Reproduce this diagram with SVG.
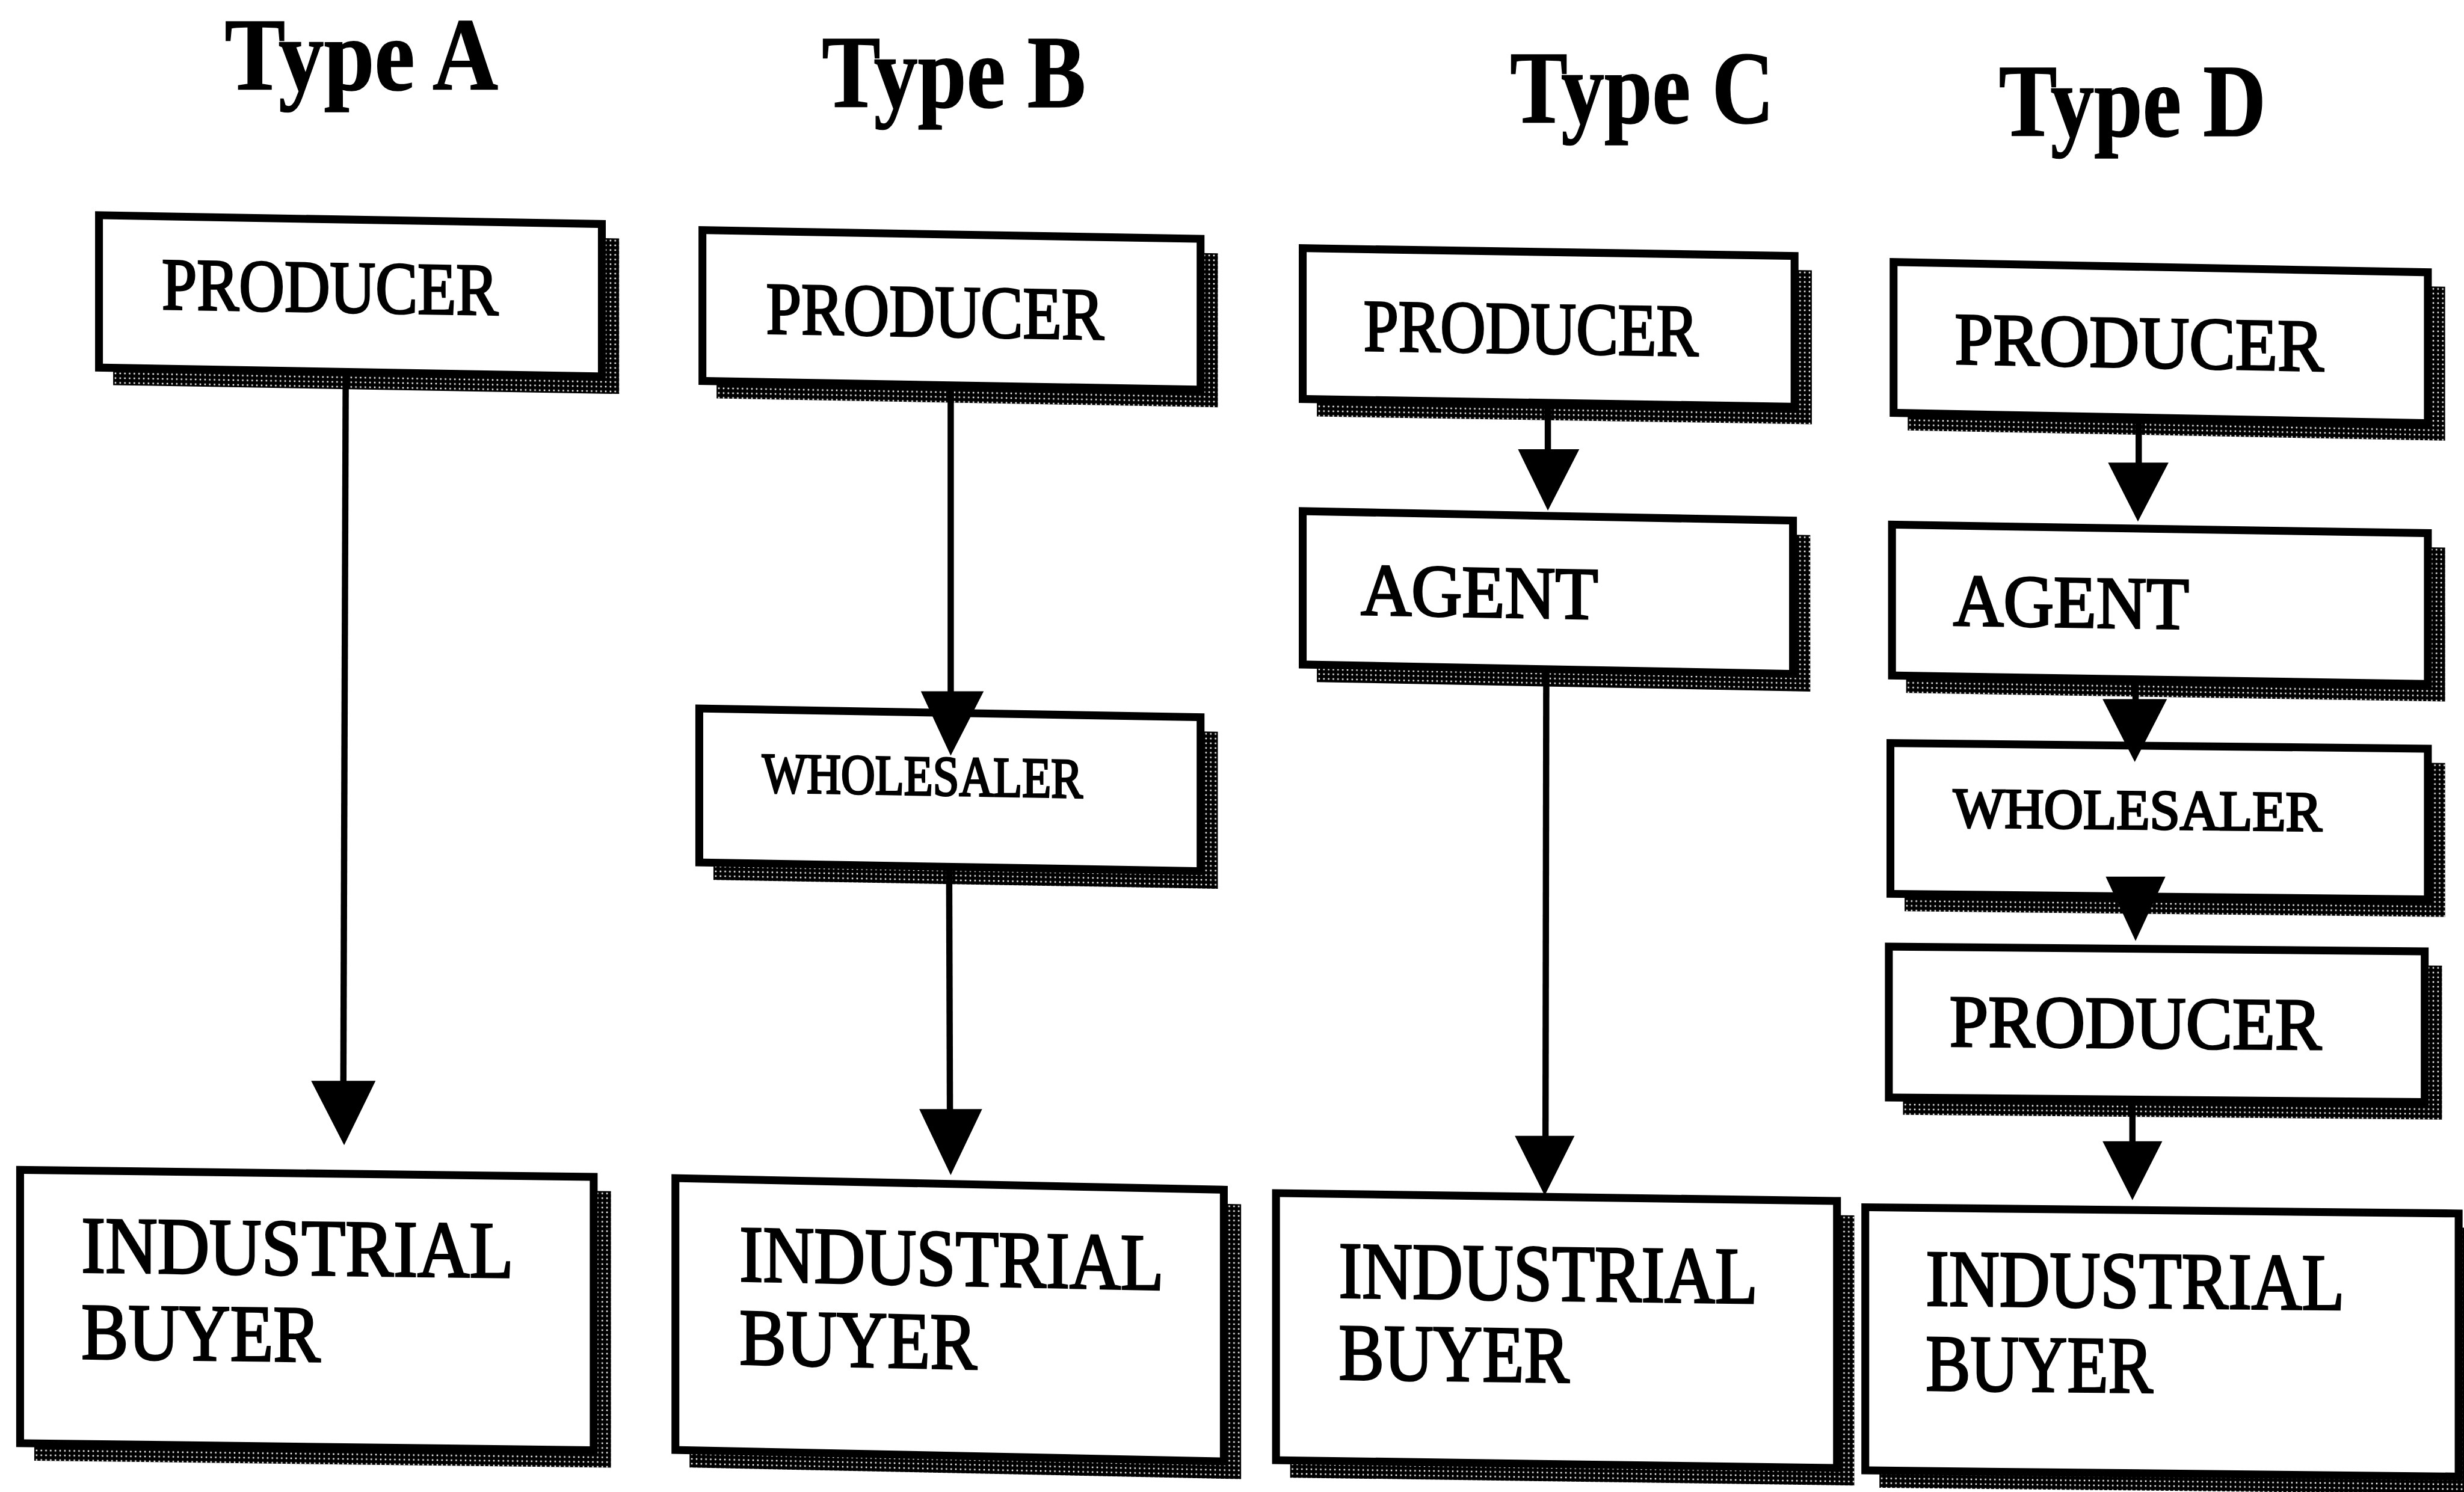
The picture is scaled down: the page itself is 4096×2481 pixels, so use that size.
<svg xmlns="http://www.w3.org/2000/svg" width="4096" height="2481" viewBox="0 0 4096 2481">
<defs>
<pattern id="stip" width="3" height="3" patternUnits="userSpaceOnUse">
<rect width="3" height="3" fill="#000"/>
<circle cx="1.5" cy="1.5" r="0.55" fill="#fff"/>
</pattern>
<style>
.box{fill:#fff;stroke:#000;stroke-width:5;stroke-linejoin:miter}
.sh{fill:url(#stip)}
.title{font-family:"Liberation Serif","Times New Roman",serif;font-weight:bold;font-size:66px;fill:#000;stroke:#000;stroke-width:0.6}
.lbl{font-family:"Liberation Serif","Times New Roman",serif;font-size:47px;fill:#000;stroke:#000;stroke-width:1.3}
.sm{font-size:36px}
.big{font-size:51px}
.ln{stroke:#000;stroke-width:4;fill:none}
.hd{fill:#000}
</style>
</defs>
<rect width="4096" height="2481" fill="#fff"/>
<g transform="scale(2.612245)">
<g id="titles">
<text class="title" x="143" y="57" textLength="174" lengthAdjust="spacingAndGlyphs">Type A</text>
<text class="title" x="523" y="68" textLength="168" lengthAdjust="spacingAndGlyphs">Type B</text>
<text class="title" x="961" y="78" textLength="168" lengthAdjust="spacingAndGlyphs">Type C</text>
<text class="title" x="1272" y="86.5" textLength="170" lengthAdjust="spacingAndGlyphs">Type D</text>
</g>
<g id="a-producer" transform="translate(63,137) skewY(1)">
<rect class="sh" x="9" y="9" width="322" height="99"/>
<rect class="box" x="0" y="0" width="320" height="97"/>
<text class="lbl" x="40" y="59" textLength="214" lengthAdjust="spacingAndGlyphs">PRODUCER</text>
</g>
<g id="a-buyer" transform="translate(12.8,744.7) skewY(0.7)">
<rect class="sh" x="9" y="9" width="367" height="176"/>
<rect class="box" x="0" y="0" width="365" height="174"/>
<text class="lbl big" x="39" y="64.6" textLength="275" lengthAdjust="spacingAndGlyphs">INDUSTRIAL</text>
<text class="lbl big" x="39" y="119.6" textLength="152" lengthAdjust="spacingAndGlyphs">BUYER</text>
</g>
<g id="b-producer" transform="translate(447,146.5) skewY(1)">
<rect class="sh" x="9" y="9" width="319" height="98"/>
<rect class="box" x="0" y="0" width="317" height="96"/>
<text class="lbl" x="40.5" y="65" textLength="215" lengthAdjust="spacingAndGlyphs">PRODUCER</text>
</g>
<g id="b-wholesaler" transform="translate(445,451) skewY(1)">
<rect class="sh" x="9" y="9" width="321" height="100"/>
<rect class="box" x="0" y="0" width="319" height="98"/>
<text class="lbl sm" x="40" y="52.5" textLength="204" lengthAdjust="spacingAndGlyphs">WHOLESALER</text>
</g>
<g id="b-buyer" transform="translate(429.8,750) skewY(1.2)">
<rect class="sh" x="9" y="9" width="351" height="175"/>
<rect class="box" x="0" y="0" width="349" height="173"/>
<text class="lbl big" x="40.8" y="64.5" textLength="270" lengthAdjust="spacingAndGlyphs">INDUSTRIAL</text>
<text class="lbl big" x="40.8" y="117.5" textLength="151" lengthAdjust="spacingAndGlyphs">BUYER</text>
</g>
<g id="c-producer" transform="translate(829,158) skewY(0.9)">
<rect class="sh" x="9" y="9" width="315" height="98"/>
<rect class="box" x="0" y="0" width="313" height="96"/>
<text class="lbl" x="38.7" y="64.5" textLength="213" lengthAdjust="spacingAndGlyphs">PRODUCER</text>
</g>
<g id="c-agent" transform="translate(829,325.4) skewY(1.1)">
<rect class="sh" x="9" y="9" width="314" height="99.6"/>
<rect class="box" x="0" y="0" width="312" height="97.6"/>
<text class="lbl" x="37" y="65" textLength="151" lengthAdjust="spacingAndGlyphs">AGENT</text>
</g>
<g id="c-buyer" transform="translate(812,759.5) skewY(0.8)">
<rect class="sh" x="9" y="9" width="359" height="172"/>
<rect class="box" x="0" y="0" width="357" height="170"/>
<text class="lbl big" x="40" y="65.8" textLength="266.5" lengthAdjust="spacingAndGlyphs">INDUSTRIAL</text>
<text class="lbl big" x="40" y="117.8" textLength="146.6" lengthAdjust="spacingAndGlyphs">BUYER</text>
</g>
<g id="d-producer" transform="translate(1205,166.8) skewY(1.1)">
<rect class="sh" x="9" y="9" width="342" height="98"/>
<rect class="box" x="0" y="0" width="340" height="96"/>
<text class="lbl" x="39" y="64" textLength="234.7" lengthAdjust="spacingAndGlyphs">PRODUCER</text>
</g>
<g id="d-agent" transform="translate(1204,334) skewY(0.9)">
<rect class="sh" x="9" y="9" width="343" height="98"/>
<rect class="box" x="0" y="0" width="341" height="96"/>
<text class="lbl" x="39" y="63.3" textLength="150" lengthAdjust="spacingAndGlyphs">AGENT</text>
</g>
<g id="d-wholesaler" transform="translate(1203,473) skewY(0.6)">
<rect class="sh" x="9" y="9" width="344" height="98"/>
<rect class="box" x="0" y="0" width="342" height="96"/>
<text class="lbl sm" x="40" y="53" textLength="234.6" lengthAdjust="spacingAndGlyphs">WHOLESALER</text>
</g>
<g id="d-producer2" transform="translate(1202,602.6) skewY(0.5)">
<rect class="sh" x="9" y="9" width="343" height="98"/>
<rect class="box" x="0" y="0" width="341" height="96"/>
<text class="lbl" x="38.6" y="63" textLength="236.7" lengthAdjust="spacingAndGlyphs">PRODUCER</text>
</g>
<g id="d-buyer" transform="translate(1187,768.5) skewY(0.6)">
<rect class="sh" x="9" y="9" width="379.6" height="169.5"/>
<rect class="box" x="0" y="0" width="377.6" height="167.5"/>
<text class="lbl big" x="38.5" y="62" textLength="266.5" lengthAdjust="spacingAndGlyphs">INDUSTRIAL</text>
<text class="lbl big" x="38.5" y="116" textLength="144.5" lengthAdjust="spacingAndGlyphs">BUYER</text>
</g>
<g id="connectors">
<line class="ln" x1="220" y1="238" x2="218.5" y2="690"/>
<polygon class="hd" points="198,688 239,688 219,729"/>
<line class="ln" x1="605" y1="246" x2="605" y2="442"/>
<polygon class="hd" points="586,440 626,440 605,481"/>
<line class="ln" x1="604" y1="552" x2="604.5" y2="708"/>
<polygon class="hd" points="585,706 625,706 605,748"/>
<line class="ln" x1="985" y1="257" x2="985" y2="288"/>
<polygon class="hd" points="966,286 1005,286 985,325"/>
<line class="ln" x1="984" y1="426" x2="983.5" y2="725"/>
<polygon class="hd" points="964,723 1002,723 983,761"/>
<line class="ln" x1="1361" y1="266" x2="1361" y2="296"/>
<polygon class="hd" points="1341.5,294.5 1380,294.5 1360.5,332"/>
<line class="ln" x1="1359" y1="432" x2="1359" y2="447"/>
<polygon class="hd" points="1338,445 1379,445 1358.5,485"/>
<line class="ln" x1="1359" y1="568" x2="1359" y2="560"/>
<polygon class="hd" points="1340,558 1378,558 1359,599"/>
<line class="ln" x1="1357" y1="700" x2="1357" y2="728"/>
<polygon class="hd" points="1338,726.5 1376,726.5 1357,764"/>
</g>
</g>
</svg>
